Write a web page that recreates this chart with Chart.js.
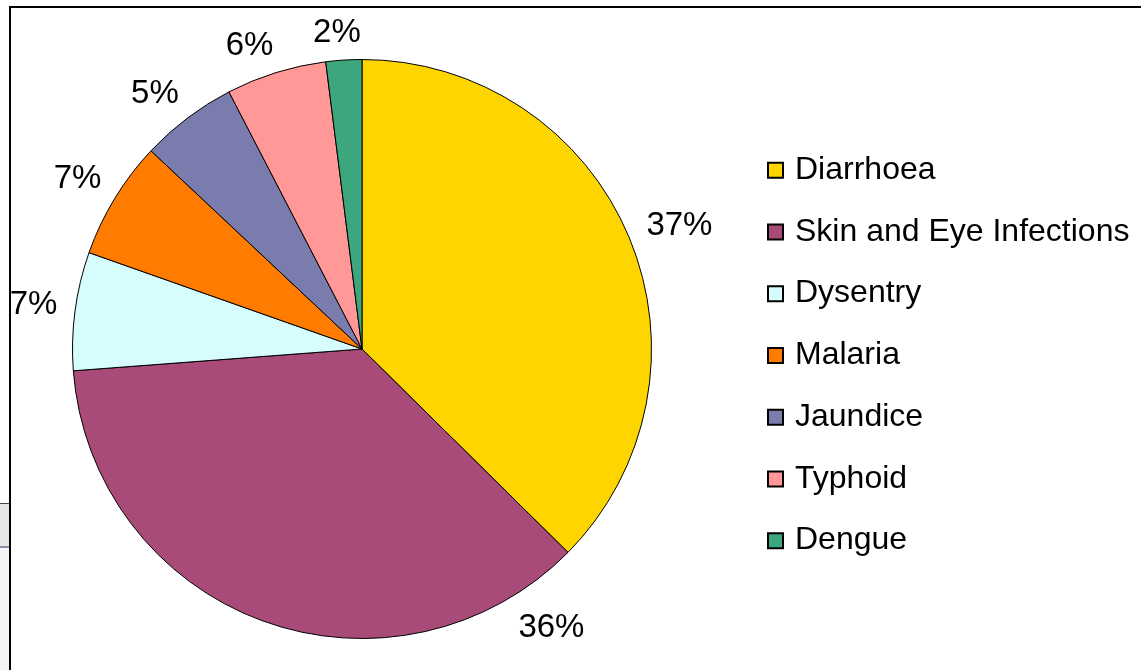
<!DOCTYPE html>
<html>
<head>
<meta charset="utf-8">
<script src="https://cdn.jsdelivr.net/npm/chart.js@4.4.1/dist/chart.umd.min.js"></script>
<style>
    html, body { margin: 0; padding: 0; background: #fff; overflow: hidden; }
    #wrap { position: relative; width: 1141px; height: 670px; }
    #frame { position: absolute; left: 9px; top: 6px; width: 1200px; height: 700px; border-left: 2px solid #000; border-top: 2px solid #000; }
    #strip { position: absolute; left: 0; top: 503px; width: 9px; height: 167px; background: #f4f4f4; border-top: 1px solid #444; }
    #strip div { height: 42px; background: #e6e6e6; border-bottom: 2px solid #8c8ca4; }
    canvas { position: absolute; left: 0; top: 0; }
</style>
</head>
<body>
<div id="wrap">
    <div id="strip"><div></div></div>
    <div id="frame"></div>
    <canvas id="myChart" width="1141" height="670"></canvas>
</div>
<script>
const diseases = ["Diarrhoea", "Skin and Eye Infections", "Dysentry", "Malaria", "Jaundice", "Typhoid", "Dengue"];
const shares = [37.4, 36.4, 6.6, 6.6, 5.4, 5.6, 2.0];
const sliceColors = ["#FFD500", "#A94B78", "#D6FCFD", "#FF7C00", "#7B7CAE", "#FF9896", "#3DA67C"];

const FONT = '"Liberation Sans", Arial, sans-serif';

// percent labels outside the pie, box kept clear of the rim
const pctLabels = {
    id: "pctLabels",
    afterDatasetsDraw(chart, args, opts) {
        const ctx = chart.ctx;
        const meta = chart.getDatasetMeta(0);
        const data = chart.data.datasets[0].data;
        const total = data.reduce((a, b) => a + b, 0);
        const capH = opts.size * 0.72;
        ctx.save();
        ctx.font = opts.size + "px " + FONT;
        ctx.fillStyle = "#000";
        ctx.textAlign = "center";
        ctx.textBaseline = "alphabetic";
        meta.data.forEach((arc, i) => {
            const p = arc.getProps(["x", "y", "startAngle", "endAngle", "outerRadius"], true);
            const a = (p.startAngle + p.endAngle) / 2 + (opts.shift[i] || 0) * Math.PI / 180;
            const txt = Math.round(data[i] / total * 100) + "%";
            const w = ctx.measureText(txt).width;
            const ext = Math.abs(Math.cos(a)) * w / 2 + Math.abs(Math.sin(a)) * capH / 2;
            const r = p.outerRadius + opts.margin + ext;
            const cx = p.x + Math.cos(a) * r;
            const cy = p.y + Math.sin(a) * r;
            ctx.fillText(txt, cx, cy + capH / 2);
        });
        ctx.restore();
    }
};

// legend on the right, square boxes with black outline
const sideLegend = {
    id: "sideLegend",
    afterDraw(chart, args, opts) {
        const ctx = chart.ctx;
        const area = chart.chartArea;
        const labels = chart.data.labels;
        const colors = chart.data.datasets[0].backgroundColor;
        const n = labels.length;
        const y0 = (area.top + area.bottom) / 2 - (n - 1) * opts.rowGap / 2 + opts.dy;
        const bx = area.right + opts.dx;
        ctx.save();
        ctx.font = opts.size + "px " + FONT;
        ctx.textBaseline = "alphabetic";
        ctx.textAlign = "left";
        labels.forEach((lab, i) => {
            const cy = y0 + i * opts.rowGap;
            ctx.fillStyle = colors[i];
            ctx.fillRect(bx, cy - 7, 15, 15);
            ctx.lineWidth = 2;
            ctx.strokeStyle = "#000";
            ctx.strokeRect(bx, cy - 7, 15, 15);
            ctx.fillStyle = "#000";
            ctx.fillText(lab, bx + 27, cy + 9);
        });
        ctx.restore();
    }
};

new Chart(document.getElementById("myChart").getContext("2d"), {
    type: "pie",
    data: {
        labels: diseases,
        datasets: [{
            data: shares,
            backgroundColor: sliceColors,
            borderColor: "#000",
            borderWidth: 1
        }]
    },
    options: {
        responsive: false,
        animation: false,
        events: [],
        layout: {
            padding: { left: 72, top: 59, bottom: 31, right: 489 }
        },
        plugins: {
            legend: { display: false },
            tooltip: { enabled: false },
            pctLabels: { size: 33, margin: 17, shift: [1, -54.6, 0.5, 0, -1.7, -2.9, -0.9] },
            sideLegend: { size: 32, rowGap: 61.75, dy: 6, dx: 116 }
        }
    },
    plugins: [pctLabels, sideLegend]
});
</script>
</body>
</html>
